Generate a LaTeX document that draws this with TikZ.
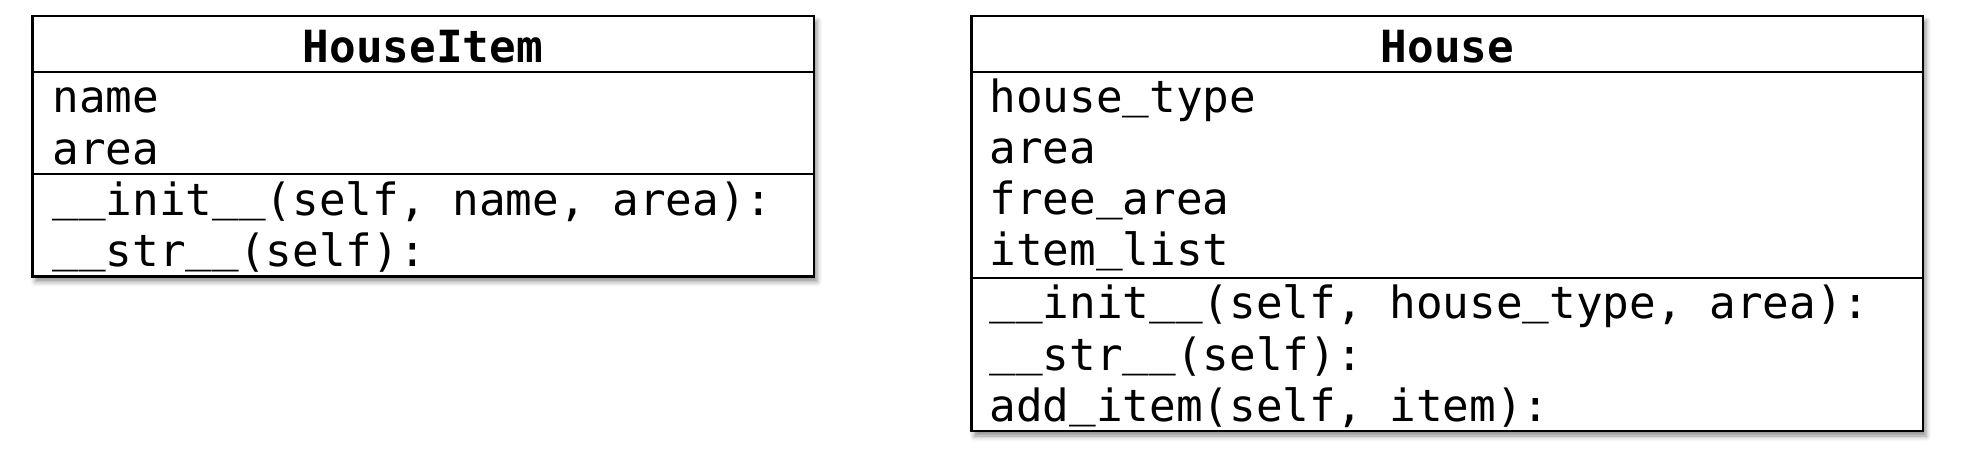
\documentclass[tikz,border=0pt]{standalone}
\usepackage{fontspec}
\setmonofont{DejaVu Sans Mono}
\usetikzlibrary{shadows.blur}
\newcommand\usc{\raisebox{0.11em}{\_}}
\begin{document}
\begin{tikzpicture}[x=0.5pt,y=-0.5pt,
  umlbox/.style={draw=black, line width=1.4pt, fill=white, inner sep=0pt, outer sep=0pt, anchor=north west,
    blur shadow={shadow xshift=1.5pt, shadow yshift=-2.5pt, shadow blur radius=2.5pt, shadow opacity=45}},
  txt/.style={anchor=base west, inner sep=0pt, font=\fontsize{22.15}{26}\selectfont\ttfamily},
  ttl/.style={anchor=base, inner sep=0pt, font=\fontsize{22.15}{26}\selectfont\ttfamily\bfseries},
  divider/.style={line width=1.4pt}]
\useasboundingbox (0,0) rectangle (1964,463);

% HouseItem
\node[umlbox, minimum width=390.75pt, minimum height=130.25pt] (hi) at (32.5,16) {};
\coordinate (hia) at (0,72);
\coordinate (him) at (0,174);
\draw[divider] (hi.west |- hia) -- (hi.east |- hia);
\draw[divider] (hi.west |- him) -- (hi.east |- him);
\node[ttl] (hit) at (423,62) {HouseItem};
\node[txt] (hi1) at (52,112) {name};
\node[txt] (hi2) at (52,164) {area};
\node[txt] (hi3) at (52,215.5) {\usc\usc init\usc\usc(self, name, area):};
\node[txt] (hi4) at (52,266.5) {\usc\usc str\usc\usc(self):};

% House
\node[umlbox, minimum width=475.75pt, minimum height=207.5pt] (h) at (971.5,16) {};
\coordinate (ha) at (0,72);
\coordinate (hm) at (0,278);
\draw[divider] (h.west |- ha) -- (h.east |- ha);
\draw[divider] (h.west |- hm) -- (h.east |- hm);
\node[ttl] (ht) at (1447.5,62) {House};
\node[txt] (h1) at (989,112) {house\usc type};
\node[txt] (h2) at (989,163.5) {area};
\node[txt] (h3) at (989,214.5) {free\usc area};
\node[txt] (h4) at (989,265.5) {item\usc list};
\node[txt] (h5) at (989,318) {\usc\usc init\usc\usc(self, house\usc type, area):};
\node[txt] (h6) at (989,370) {\usc\usc str\usc\usc(self):};
\node[txt] (h7) at (989,421.5) {add\usc item(self, item):};
\end{tikzpicture}
\end{document}
